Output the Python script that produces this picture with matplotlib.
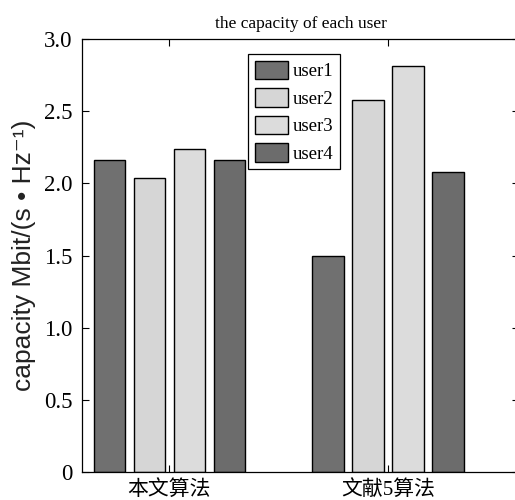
import numpy as np
import matplotlib
matplotlib.use("Agg")
import matplotlib.pyplot as plt

plt.rcParams['font.family'] = ['Liberation Serif', 'Noto Sans CJK SC']

groups = ['本文算法', '文献5算法']
users = ['user1', 'user2', 'user3', 'user4']
user1 = [2.16, 1.50]
user2 = [2.04, 2.58]
user3 = [2.24, 2.81]
user4 = [2.16, 2.08]
yticks = [0, 0.5, 1.0, 1.5, 2.0, 2.5, 3.0]
ytick_labels = ['0', '0.5', '1.0', '1.5', '2.0', '2.5', '3.0']

colors = ['#707070', '#d6d6d6', '#dcdcdc', '#6c6c6c']

fig = plt.figure(figsize=(5.15, 5.0), dpi=100)
ax = fig.add_axes([82 / 515, 28 / 500, 437 / 515, 433 / 500])

x = np.arange(1, len(groups) + 1)
step = 0.183
width = 0.143
for i, (vals, name) in enumerate(zip([user1, user2, user3, user4], users)):
    ax.bar(x + (i - 1.5) * step, vals, width, color=colors[i],
           edgecolor='black', linewidth=1.0, label=name)

ax.set_xlim(0.6, 2.6)
ax.set_ylim(0, 3.0)
ax.set_xticks(x)
ax.set_xticklabels(groups, fontsize=15)
ax.set_yticks(yticks)
ax.set_yticklabels(ytick_labels, fontsize=16.5)
ax.tick_params(direction='in', top=True, right=True, length=5, width=0.8)
ax.tick_params(axis='x', pad=6)
ax.tick_params(axis='y', pad=7)
for s in ax.spines.values():
    s.set_linewidth(0.9)

ax.set_ylabel('capacity Mbit/(s • Hz⁻¹)', fontsize=19,
              family=['Liberation Sans', 'DejaVu Sans'], color='#222222')
ax.yaxis.set_label_coords(-0.105, 0.5)
ax.set_title('the capacity of each user', fontsize=12.5, pad=8)

leg = ax.legend(loc='upper left', bbox_to_anchor=(248 / 515, 1 - 54 / 500),
                bbox_transform=fig.transFigure, borderaxespad=0,
                fontsize=13.5, fancybox=False, framealpha=1,
                edgecolor='black', handlelength=1.8, handleheight=1.15,
                handletextpad=0.25, labelspacing=0.42, borderpad=0.35)
leg.get_frame().set_linewidth(0.9)

fig.savefig('out.png', dpi=100)
